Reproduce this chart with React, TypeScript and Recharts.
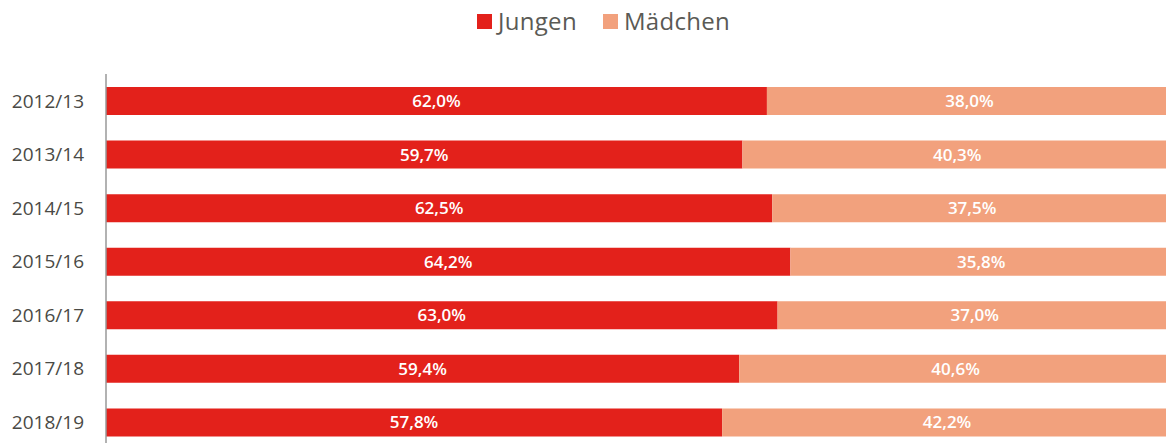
import { BarChart, Bar, XAxis, YAxis, LabelList } from "recharts";

const years = ["2012/13", "2013/14", "2014/15", "2015/16", "2016/17", "2017/18", "2018/19"];
const jungen = [62.0, 59.7, 62.5, 64.2, 63.0, 59.4, 57.8];
const maedchen = [38.0, 40.3, 37.5, 35.8, 37.0, 40.6, 42.2];

const rows = years.map((year, i) => ({ year, jungen: jungen[i], maedchen: maedchen[i] }));

const RED = "#e3211b";
const PEACH = "#f2a17d";
const FONT = "'Open Sans', 'Noto Sans', sans-serif";

const fmt = (v: any) => `${Number(v).toFixed(1).replace(".", ",")}%`;

// legend drawn as plain html above the chart
function LegendBox() {
  const item = (color: string, text: string, gap: number) => (
    <span style={{ display: "inline-flex", alignItems: "center", marginRight: gap }}>
      <span style={{ width: 15, height: 15, background: color, display: "inline-block", marginRight: 6 }} />
      <span style={{ fontSize: 24, lineHeight: "30px", color: "#5a5a55", fontFamily: FONT, letterSpacing: 0.3 }}>{text}</span>
    </span>
  );
  return (
    <div style={{ position: "absolute", left: 477, top: 6, whiteSpace: "nowrap", display: "flex", zIndex: 2 }}>
      {item(RED, "Jungen", 26)}
      {item(PEACH, "Mädchen", 0)}
    </div>
  );
}

export default function App() {
  return (
    <div style={{ position: "fixed", left: 0, top: 0, width: 1166, height: 443, overflow: "hidden", background: "#fff" }}>
      <LegendBox />
      <BarChart
        width={1180}
        height={460}
        data={rows}
        layout="vertical"
        margin={{ top: 74, right: 8, bottom: 11, left: 0 }}
        barSize={28}
      >
        <XAxis type="number" domain={[0, 100]} hide />
        <YAxis
          type="category"
          dataKey="year"
          width={106}
          tickLine={false}
          tickSize={10}
          tickMargin={12}
          axisLine={{ stroke: "#999", strokeWidth: 1.5 }}
          tick={{ fontSize: 19, fill: "#4a4a45", fontFamily: FONT }}
        />
        <Bar dataKey="jungen" stackId="a" fill={RED} isAnimationActive={false}>
          <LabelList dataKey="jungen" position="center" formatter={fmt} fill="#fff" style={{ fontSize: 17, fontWeight: 600, fontFamily: FONT }} />
        </Bar>
        <Bar dataKey="maedchen" stackId="a" fill={PEACH} isAnimationActive={false}>
          <LabelList dataKey="maedchen" position="center" formatter={fmt} fill="#fff" style={{ fontSize: 17, fontWeight: 600, fontFamily: FONT }} />
        </Bar>
      </BarChart>
    </div>
  );
}
